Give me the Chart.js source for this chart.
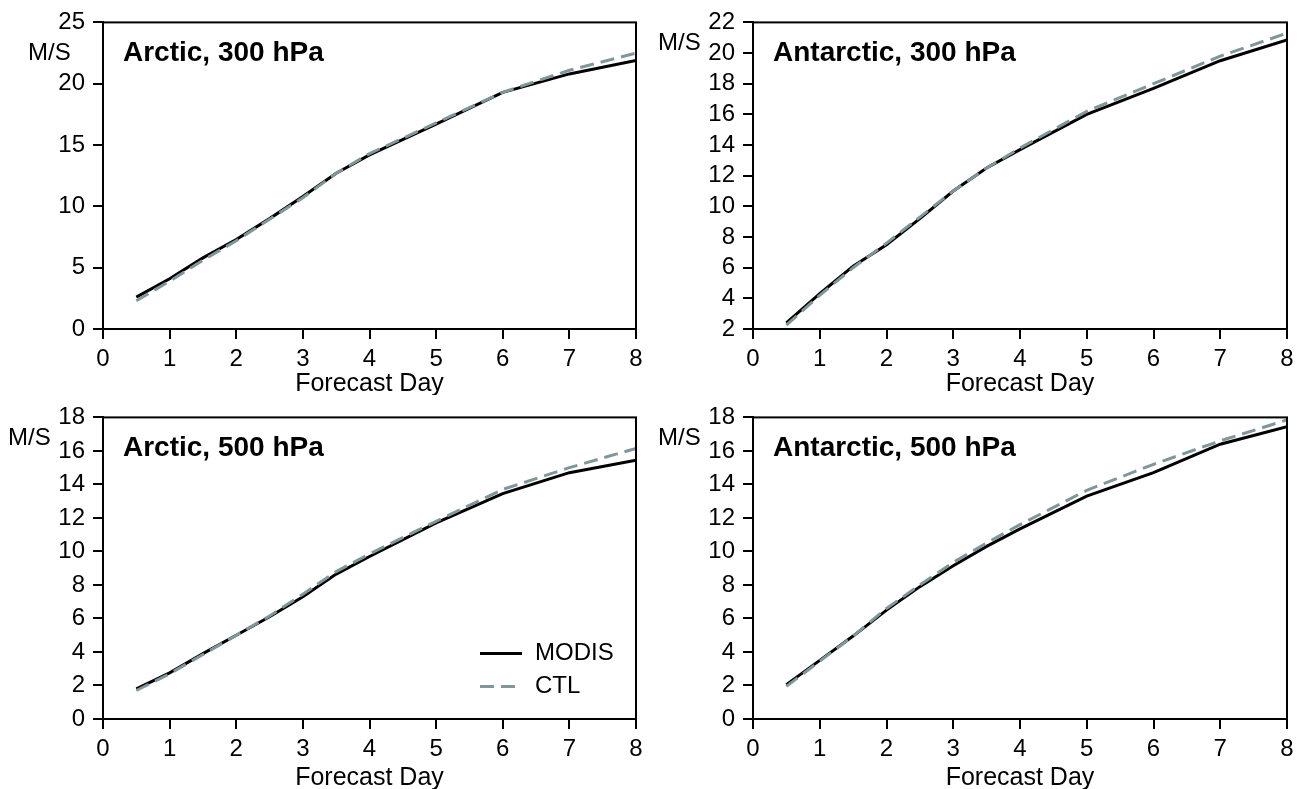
<!DOCTYPE html>
<html>
<head>
<meta charset="utf-8">
<script src="https://cdn.jsdelivr.net/npm/chart.js@4.4.1/dist/chart.umd.min.js"></script>
<style>
  body { margin: 0; background: #fff; }
  #wrap { position: relative; width: 1301px; height: 789px; }
  canvas { position: absolute; }
</style>
</head>
<body>
<div id="wrap">
  <canvas id="p0" width="650" height="395" style="left:0;top:0"></canvas>
  <canvas id="p1" width="651" height="395" style="left:650px;top:0"></canvas>
  <canvas id="p2" width="650" height="394" style="left:0;top:395px"></canvas>
  <canvas id="p3" width="651" height="394" style="left:650px;top:395px"></canvas>
</div>
<script>
// forecast lead time (days)
const days = [0.5, 1, 1.5, 2, 2.5, 3, 3.5, 4, 5, 6, 7, 8];

// wind vector RMS error, m/s
const arctic300Modis = [2.6, 4.1, 5.8, 7.3, 9.0, 10.8, 12.7, 14.2, 16.7, 19.3, 20.8, 21.9];
const arctic300Ctl   = [2.3, 3.9, 5.6, 7.2, 8.95, 10.7, 12.7, 14.3, 16.8, 19.3, 21.1, 22.5];
const antarctic300Modis = [2.4, 4.3, 6.1, 7.5, 9.2, 11.0, 12.5, 13.7, 16.0, 17.7, 19.5, 20.85];
const antarctic300Ctl   = [2.25, 4.2, 6.0, 7.6, 9.3, 11.0, 12.5, 13.8, 16.2, 18.0, 19.8, 21.3];
const arctic500Modis = [1.8, 2.75, 3.9, 5.0, 6.1, 7.3, 8.65, 9.7, 11.7, 13.45, 14.7, 15.45];
const arctic500Ctl   = [1.7, 2.7, 3.85, 5.0, 6.15, 7.45, 8.8, 9.85, 11.8, 13.7, 15.0, 16.15];
const antarctic500Modis = [2.05, 3.5, 4.95, 6.5, 7.9, 9.15, 10.3, 11.35, 13.3, 14.7, 16.4, 17.45];
const antarctic500Ctl   = [1.95, 3.45, 4.95, 6.6, 8.0, 9.35, 10.5, 11.6, 13.65, 15.2, 16.6, 17.85];

const titles = ['Arctic, 300 hPa', 'Antarctic, 300 hPa', 'Arctic, 500 hPa', 'Antarctic, 500 hPa'];
const yMin  = [0, 2, 0, 0];
const yMax  = [25, 22, 18, 18];
const yStep = [5, 2, 2, 2];

const FONT = '"Liberation Sans", Arial, Helvetica, sans-serif';

const panels = [
  { id: 'p0', modis: arctic300Modis,    ctl: arctic300Ctl,    top: 22, xh: 66, unitX: 28, unitDy: 31 },
  { id: 'p1', modis: antarctic300Modis, ctl: antarctic300Ctl, top: 22, xh: 66, unitX: 8,  unitDy: 21 },
  { id: 'p2', modis: arctic500Modis,    ctl: arctic500Ctl,    top: 17, xh: 70, unitX: 8,  unitDy: 21, legend: true },
  { id: 'p3', modis: antarctic500Modis, ctl: antarctic500Ctl, top: 17, xh: 70, unitX: 8,  unitDy: 21 }
];

const toXY = (ys) => ys.map((v, i) => ({ x: days[i], y: v }));

// frame, panel title, unit label and (optionally) legend
const panelDecor = {
  id: 'panelDecor',
  afterDraw(chart, args, opts) {
    const { ctx, chartArea: a } = chart;
    ctx.save();
    ctx.strokeStyle = '#000';
    ctx.lineWidth = 2;
    ctx.strokeRect(a.left, a.top, a.right - a.left, a.bottom - a.top);

    ctx.fillStyle = '#000';
    ctx.textBaseline = 'middle';
    ctx.textAlign = 'left';
    ctx.font = 'bold 28px ' + FONT;
    ctx.fillText(opts.title, a.left + 20, a.top + 31);
    ctx.font = '24px ' + FONT;
    ctx.fillText('M/S', opts.unitX, a.top + opts.unitDy);

    if (opts.legend) {
      let y = a.top + 236;
      chart.data.datasets.forEach((ds) => {
        ctx.strokeStyle = ds.borderColor;
        ctx.lineWidth = ds.borderWidth;
        ctx.setLineDash(ds.borderDash || []);
        ctx.beginPath();
        ctx.moveTo(a.left + 377, y);
        ctx.lineTo(a.left + 419, y);
        ctx.stroke();
        ctx.setLineDash([]);
        ctx.fillText(ds.label, a.left + 432, y);
        y += 33;
      });
    }
    ctx.restore();
  }
};

panels.forEach((p, i) => {
  new Chart(document.getElementById(p.id), {
    type: 'line',
    data: {
      datasets: [
        { label: 'MODIS', data: toXY(p.modis), borderColor: '#000', borderWidth: 3, order: 1 },
        { label: 'CTL', data: toXY(p.ctl), borderColor: '#7f979b', borderWidth: 3, borderDash: [14, 7], order: 0 }
      ]
    },
    options: {
      responsive: false,
      animation: false,
      events: [],
      layout: { padding: { left: 0, right: 14, top: p.top, bottom: 0 } },
      elements: { point: { radius: 0 }, line: { tension: 0, borderCapStyle: 'butt' } },
      plugins: {
        legend: { display: false },
        tooltip: { enabled: false },
        panelDecor: { title: titles[i], unitX: p.unitX, unitDy: p.unitDy, legend: !!p.legend }
      },
      scales: {
        x: {
          type: 'linear',
          min: 0, max: 8,
          afterFit: (s) => { s.height = p.xh; },
          ticks: { stepSize: 1, autoSkip: false, color: '#000', font: { family: FONT, size: 24 }, padding: 6, maxRotation: 0 },
          grid: { display: true, drawOnChartArea: false, drawTicks: true, tickLength: 10, color: '#000', lineWidth: 2 },
          border: { display: true, color: '#000', width: 2 },
          title: { display: true, text: 'Forecast Day', color: '#000', font: { family: FONT, size: 25, lineHeight: 0.85 }, padding: 0 }
        },
        y: {
          min: yMin[i], max: yMax[i],
          afterFit: (s) => { s.width = 103; },
          ticks: { stepSize: yStep[i], autoSkip: false, color: '#000', font: { family: FONT, size: 24 }, padding: 8 },
          grid: { display: true, drawOnChartArea: false, drawTicks: true, tickLength: 10, color: '#000', lineWidth: 2 },
          border: { display: true, color: '#000', width: 2 }
        }
      }
    },
    plugins: [panelDecor]
  });
});
</script>
</body>
</html>
